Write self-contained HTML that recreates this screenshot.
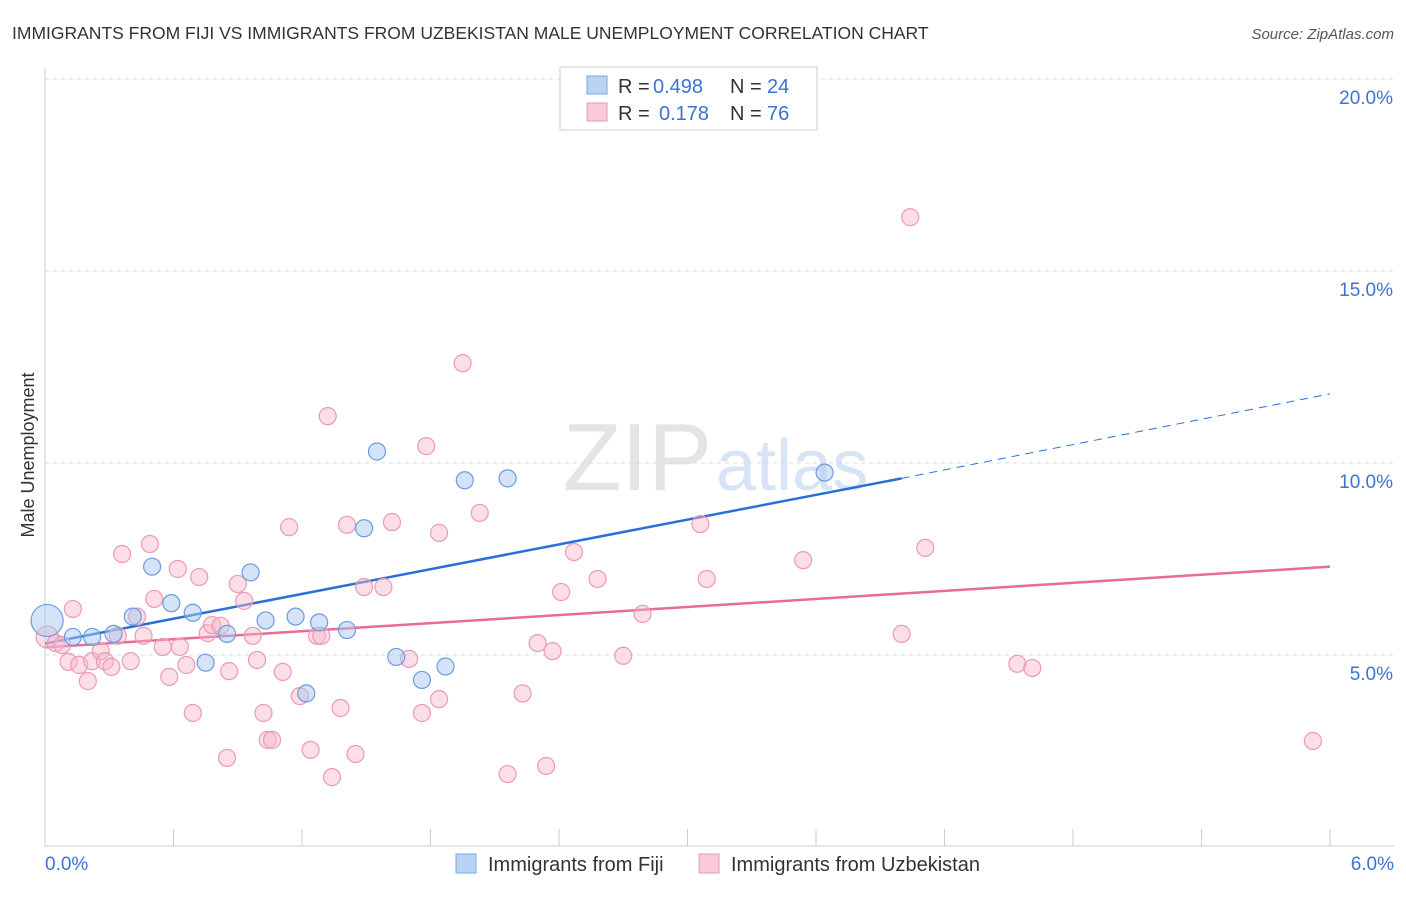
<!DOCTYPE html>
<html><head><meta charset="utf-8"><style>
body{margin:0;background:#fff;font-family:"Liberation Sans",sans-serif}
svg text{font-family:"Liberation Sans",sans-serif}
</style></head><body>
<svg id="chart" width="1406" height="892" xmlns="http://www.w3.org/2000/svg">
<text x="12" y="39" font-size="17.5" fill="#333">IMMIGRANTS FROM FIJI VS IMMIGRANTS FROM UZBEKISTAN MALE UNEMPLOYMENT CORRELATION CHART</text>
<text x="1394" y="39" font-size="15" fill="#555" text-anchor="end" font-style="italic">Source: ZipAtlas.com</text>
<text x="712" y="490" font-size="96" fill="#e4e4e4" text-anchor="end" font-family="Liberation Serif">ZIP</text>
<text x="716" y="490" font-size="72" fill="#d6e4f5">atlas</text>
<g id="grid"></g><g id="axes"></g><g id="lines"></g><g id="pts"></g>
<text transform="translate(34,455) rotate(-90)" font-size="18" fill="#333" text-anchor="middle">Male Unemployment</text>
<g>
<rect x="560" y="67" width="257" height="63" fill="#fff" stroke="#ccc"/>
<rect x="587" y="76" width="20" height="18" fill="#b9d3f3" stroke="#7aa7e0"/>
<rect x="587" y="103" width="20" height="18" fill="#f9c9d7" stroke="#ec9ab4"/>
<text y="93" font-size="20" fill="#333"><tspan x="618">R =</tspan><tspan x="653" fill="#3b73d1">0.498</tspan><tspan x="730">N =</tspan><tspan x="767" fill="#3b73d1">24</tspan></text>
<text y="120" font-size="20" fill="#333"><tspan x="618">R =</tspan><tspan x="659" fill="#3b73d1">0.178</tspan><tspan x="730">N =</tspan><tspan x="767" fill="#3b73d1">76</tspan></text>
</g>
<g>
<rect x="456" y="854" width="20" height="19" fill="#b9d3f3" stroke="#7aa7e0"/>
<text x="488" y="871" font-size="20" fill="#333">Immigrants from Fiji</text>
<rect x="699" y="854" width="20" height="19" fill="#f9c9d7" stroke="#ec9ab4"/>
<text x="731" y="871" font-size="20" fill="#333">Immigrants from Uzbekistan</text>
</g>
</svg>
<script>
const yTicks=[5,10,15,20];
const xTickLabels=["0.0%","6.0%"];
const fijiX=[0.01,0.13,0.22,0.32,0.41,0.50,0.59,0.69,0.75,0.85,0.96,1.03,1.17,1.22,1.28,1.41,1.49,1.55,1.64,1.76,1.87,1.96,2.16,3.64];
const fijiY=[5.9,5.47,5.47,5.55,6.0,7.3,6.35,6.1,4.8,5.55,7.15,5.9,6.0,4.0,5.85,5.65,8.3,10.3,4.95,4.35,4.7,9.55,9.6,9.75];
const uzX=[0.01,0.05,0.08,0.13,0.11,0.16,0.20,0.22,0.26,0.28,0.31,0.34,0.36,0.40,0.43,0.46,0.49,0.51,0.55,0.58,0.62,0.63,0.66,0.69,0.72,0.76,0.78,0.82,0.85,0.86,0.90,0.93,0.97,0.99,1.02,1.04,1.06,1.11,1.14,1.19,1.24,1.27,1.29,1.32,1.34,1.38,1.41,1.45,1.49,1.58,1.62,1.70,1.76,1.78,1.84,1.84,1.95,2.03,2.16,2.23,2.30,2.34,2.37,2.41,2.47,2.58,2.70,2.79,3.06,3.09,3.54,4.00,4.04,4.11,4.54,4.61,5.92];
const uzY=[5.47,5.31,5.26,6.2,4.82,4.74,4.32,4.84,5.1,4.84,4.69,5.5,7.63,4.84,6.0,5.5,7.89,6.46,5.21,4.43,7.24,5.21,4.74,3.49,7.03,5.57,5.78,5.76,2.32,4.58,6.85,6.41,5.5,4.87,3.49,2.79,2.79,4.56,8.33,3.93,2.53,5.5,5.5,11.22,1.82,3.62,8.39,2.42,6.77,6.77,8.46,4.9,3.49,10.44,8.18,3.85,12.6,8.7,1.9,4.0,5.31,2.11,5.1,6.64,7.68,6.98,4.98,6.07,8.41,6.98,7.47,5.55,16.4,7.79,4.77,4.66,2.76];
const fijiTrend=[0,5.3,4.0,9.6];const fijiDash=[4.0,9.6,6.0,11.8];
const uzTrend=[0,5.2,6.0,7.3];
const X=v=>45+v*214.17, Y=v=>847-v*38.4;
const NS="http://www.w3.org/2000/svg";
function mk(t,a,p){const e=document.createElementNS(NS,t);for(const k in a)e.setAttribute(k,a[k]);document.getElementById(p).appendChild(e);return e;}
yTicks.forEach(v=>{
 const l=mk('line',{x1:45,x2:1394,y1:Y(v),y2:Y(v),stroke:'#ddd','stroke-dasharray':'4,4'},'grid');
 
 
 const t=mk('text',{x:1393,y:Y(v)+25,'font-size':19,fill:'#3b73d1','text-anchor':'end'},'grid');t.textContent=v.toFixed(1)+'%';
 
 
});
const ll=mk('line',{x1:45,x2:45,y1:68,y2:847,stroke:'#ccc'},'axes');


const bl=mk('line',{x1:45,x2:1394,y1:846,y2:846,stroke:'#ccc'},'axes');


for(let i=0;i<=10;i++){const tk=mk('line',{x1:X(i*0.6),x2:X(i*0.6),y1:829,y2:846,stroke:'#ccc'},'axes');
 
 }
[[0,xTickLabels[0],'start',45],[1,xTickLabels[1],'end',1394]].forEach(d=>{const t=mk('text',{x:d[3],y:870,'font-size':19,fill:'#3b73d1','text-anchor':d[2]},'axes');t.textContent=d[1];
 
 });
function line(a,c,dash,name){const l=mk('line',{x1:X(a[0]),y1:Y(a[1]),x2:X(a[2]),y2:Y(a[3]),stroke:c,'stroke-width':dash?1:2.5,'stroke-dasharray':dash?'8,6':'none'},'lines');
 
 }
line(uzTrend,'#e86b98',false,'uzbekistan-trend-line');
line(fijiTrend,'#2a6fd6',false,'fiji-trend-line');
line(fijiDash,'#2a6fd6',true,'fiji-trend-extension');
uzX.forEach((x,i)=>{const c=mk('circle',{cx:X(x),cy:Y(uzY[i]),r:i==0?11:8.5,fill:'rgba(246,182,201,0.45)',stroke:'#ec9ab4','stroke-width':1.2},'pts');
 
 });
fijiX.forEach((x,i)=>{const c=mk('circle',{cx:X(x),cy:Y(fijiY[i]),r:i==0?16:8.5,fill:'rgba(170,200,240,0.5)',stroke:'#6b9ce0','stroke-width':1.2},'pts');
 
 });
</script>
</body></html>
